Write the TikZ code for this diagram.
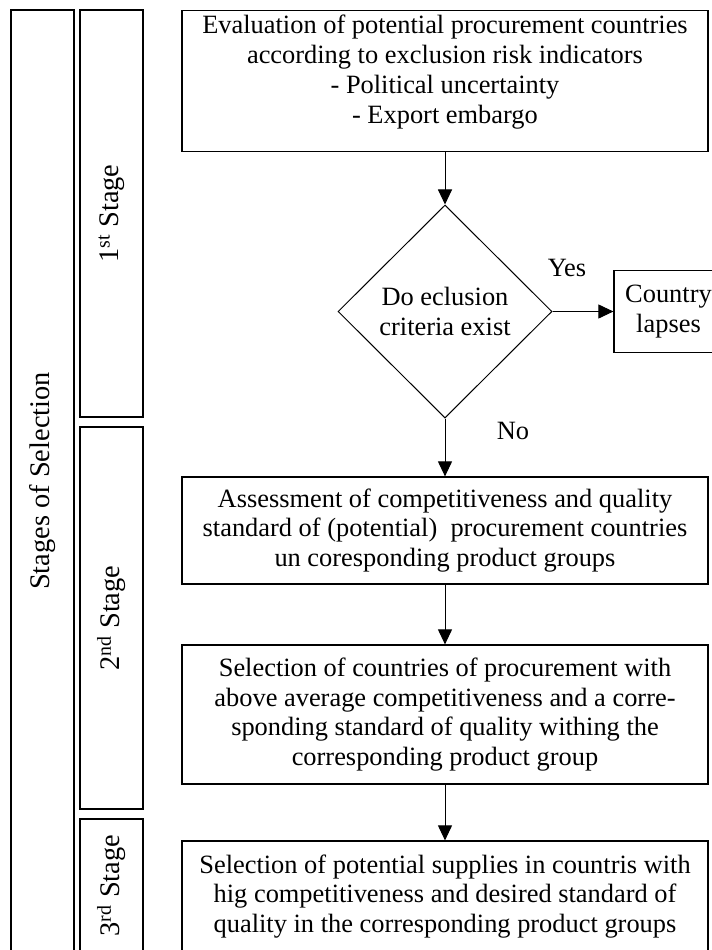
\documentclass[tikz,border=0pt]{standalone}
\usepackage{fontspec}
\setmainfont{Liberation Serif}
\usetikzlibrary{positioning}
\usetikzlibrary{shapes.geometric}
\usetikzlibrary{arrows.meta}

\begin{document}
\begin{tikzpicture}[x=1bp,y=-1bp,
        every node/.style={font=\fontsize{26.5}{30}\selectfont},
        stagebox/.style={draw,line width=1.2bp,rotate=90,minimum height=63bp,inner sep=0pt,font=\fontsize{28.5}{30}\selectfont},
        procbox/.style={draw,line width=1.2bp,align=center,minimum width=526bp,inner xsep=0pt},
        flow/.style={-{Triangle[length=15bp,width=14bp]},line width=1bp}]
        \clip (0,0) rectangle (712,950);
        \node[stagebox,minimum width=942bp] (sel) at (42.5,481) {Stages of Selection};
        \node[stagebox,minimum width=407bp] (first) at (111.5,213.5) {1\textsuperscript{st} Stage};
        \node[stagebox,minimum width=382bp] (second) at (111.5,618) {2\textsuperscript{nd} Stage};
        \node[stagebox,minimum width=133bp] (third) at (111.5,885.5) {3\textsuperscript{rd} Stage};
        \node[procbox,anchor=north,inner ysep=0pt,text height=113bp,text depth=28bp] (eval) at (445,10)
            {Evaluation of potential procurement countries\\according to exclusion risk indicators\\- Political uncertainty\\- Export embargo};
        \node[draw,diamond,line width=1bp,minimum width=214bp,minimum height=213bp,inner sep=0pt,align=center] (crit) at (445,311.5)
            {Do eclusion\\criteria exist};
        \node[draw,line width=1.2bp,align=center,minimum width=109bp,minimum height=82bp,inner sep=0pt] (lapse) at (668.5,311.5)
            {Country\\lapses};
        \node[procbox,minimum height=107bp] (assess) at (445,530.5)
            {Assessment of competitiveness and quality\\standard of (potential)~ procurement countries\\un coresponding product groups};
        \node[procbox,minimum height=139bp] (choose) at (445,714.5)
            {Selection of countries of procurement with\\above average competitiveness and a corre-\\sponding standard of quality withing the\\corresponding product group};
        \node[procbox,minimum height=111bp] (supply) at (445,896.5)
            {Selection of potential supplies in countris with\\hig competitiveness and desired standard of\\quality in the corresponding product groups};
        \node (yes) at (567,268) {Yes};
        \node (no) at (513,431) {No};
        \draw[flow] (eval) -- (crit);
        \draw[flow] (crit) -- (lapse);
        \draw[flow] (crit) -- (assess);
        \draw[flow] (assess) -- (choose);
        \draw[flow] (choose) -- (supply);
\end{tikzpicture}
\end{document}
